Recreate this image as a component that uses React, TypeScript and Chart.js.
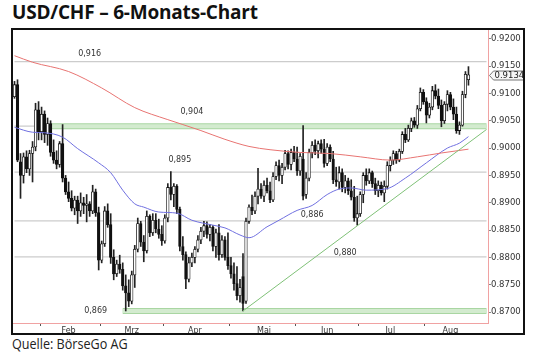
import React, { useEffect, useRef } from 'react';
import { Chart, registerables } from 'chart.js';

Chart.register(...registerables);

// ---- data ----
const opens = [
  0.9094, 0.9116, 0.8975, 0.8950, 0.8984, 0.8962, 0.8990, 0.9002, 0.9070, 0.9030,
  0.9062, 0.9025, 0.9045, 0.8992, 0.8978, 0.8970, 0.9008, 0.8945, 0.8920, 0.8908,
  0.8890, 0.8905, 0.8885, 0.8900, 0.8895, 0.8898, 0.8885, 0.8920, 0.8882, 0.8795,
  0.8825, 0.8885, 0.8860, 0.8800, 0.8770, 0.8788, 0.8778, 0.8748, 0.8735, 0.8720,
  0.8768, 0.8815, 0.8862, 0.8828, 0.8812, 0.8875, 0.8845, 0.8868, 0.8852, 0.8842,
  0.8830, 0.8872, 0.8928, 0.8915, 0.8930, 0.8888, 0.8820, 0.8805, 0.8760, 0.8790,
  0.8800, 0.8815, 0.8832, 0.8848, 0.8858, 0.8842, 0.8855, 0.8820, 0.8845, 0.8805,
  0.8832, 0.8800, 0.8785, 0.8770, 0.8752, 0.8730, 0.8765, 0.8720, 0.8866, 0.8892,
  0.8885, 0.8912, 0.8925, 0.8912, 0.8932, 0.8922, 0.8905, 0.8948, 0.8968, 0.8950,
  0.8965, 0.8990, 0.8970, 0.8992, 0.8980, 0.8958, 0.8980, 0.8915, 0.8945, 0.8992,
  0.9005, 0.8995, 0.9008, 0.8998, 0.8972, 0.9002, 0.8980, 0.8942, 0.8938, 0.8955,
  0.8928, 0.8940, 0.8922, 0.8910, 0.8872, 0.8880, 0.8915, 0.8950, 0.8940, 0.8955,
  0.8935, 0.8922, 0.8932, 0.8918, 0.8930, 0.8968, 0.8978, 0.8990, 0.8978, 0.8994,
  0.9025, 0.9015, 0.9036, 0.9050, 0.9042, 0.9072, 0.9102, 0.9085, 0.9060, 0.9075,
  0.9105, 0.9095, 0.9078, 0.9050, 0.9080, 0.9098, 0.9075, 0.9062, 0.9032, 0.9042,
  0.9098, 0.9125,
];
const highs = [
  0.9122, 0.9125, 0.8990, 0.8991, 0.8995, 0.8996, 0.9012, 0.9082, 0.9085, 0.9075,
  0.9068, 0.9055, 0.9050, 0.9015, 0.8995, 0.9012, 0.9043, 0.8950, 0.8938, 0.8922,
  0.8912, 0.8912, 0.8918, 0.8910, 0.8915, 0.8902, 0.8932, 0.8925, 0.8892, 0.8830,
  0.8893, 0.8898, 0.8880, 0.8814, 0.8795, 0.8804, 0.8790, 0.8768, 0.8759, 0.8775,
  0.8822, 0.8872, 0.8866, 0.8840, 0.8885, 0.8878, 0.8880, 0.8880, 0.8870, 0.8858,
  0.8878, 0.8935, 0.8957, 0.8935, 0.8933, 0.8892, 0.8838, 0.8810, 0.8800, 0.8808,
  0.8820, 0.8840, 0.8855, 0.8866, 0.8865, 0.8860, 0.8858, 0.8852, 0.8860, 0.8840,
  0.8838, 0.8845, 0.8800, 0.8790, 0.8783, 0.8760, 0.8807, 0.8872, 0.8896, 0.8914,
  0.8920, 0.8963, 0.8935, 0.8940, 0.8945, 0.8938, 0.8955, 0.8975, 0.8978, 0.8972,
  0.8996, 0.8995, 0.8998, 0.9003, 0.9002, 0.8990, 0.9041, 0.8955, 0.8998, 0.9012,
  0.9015, 0.9013, 0.9015, 0.9016, 0.9008, 0.9006, 0.8994, 0.8965, 0.8966, 0.8962,
  0.8950, 0.8945, 0.8942, 0.8930, 0.8912, 0.8920, 0.8955, 0.8962, 0.8962, 0.8958,
  0.8945, 0.8940, 0.8938, 0.8940, 0.8975, 0.8984, 0.8995, 0.8994, 0.8998, 0.9030,
  0.9036, 0.9042, 0.9055, 0.9056, 0.9078, 0.9110, 0.9107, 0.9092, 0.9082, 0.9113,
  0.9116, 0.9108, 0.9088, 0.9085, 0.9105, 0.9102, 0.9090, 0.9075, 0.9048, 0.9104,
  0.9140, 0.9149,
];
const lows = [
  0.9091, 0.8975, 0.8908, 0.8936, 0.8955, 0.8950, 0.8938, 0.8995, 0.9015, 0.9015,
  0.9010, 0.9005, 0.8985, 0.8972, 0.8962, 0.8965, 0.8938, 0.8915, 0.8902, 0.8885,
  0.8878, 0.8862, 0.8875, 0.8880, 0.8865, 0.8875, 0.8880, 0.8875, 0.8777, 0.8790,
  0.8820, 0.8855, 0.8789, 0.8759, 0.8765, 0.8771, 0.8740, 0.8702, 0.8710, 0.8715,
  0.8745, 0.8810, 0.8820, 0.8792, 0.8808, 0.8838, 0.8840, 0.8845, 0.8835, 0.8822,
  0.8826, 0.8865, 0.8905, 0.8893, 0.8880, 0.8812, 0.8795, 0.8743, 0.8755, 0.8783,
  0.8790, 0.8810, 0.8825, 0.8838, 0.8835, 0.8830, 0.8812, 0.8800, 0.8795, 0.8800,
  0.8795, 0.8778, 0.8762, 0.8740, 0.8722, 0.8718, 0.8702, 0.8716, 0.8862, 0.8878,
  0.8880, 0.8898, 0.8908, 0.8902, 0.8918, 0.8900, 0.8902, 0.8942, 0.8940, 0.8935,
  0.8960, 0.8962, 0.8960, 0.8975, 0.8950, 0.8950, 0.8905, 0.8908, 0.8940, 0.8982,
  0.8988, 0.8982, 0.8990, 0.8965, 0.8968, 0.8975, 0.8935, 0.8930, 0.8925, 0.8920,
  0.8918, 0.8915, 0.8905, 0.8866, 0.8859, 0.8875, 0.8900, 0.8932, 0.8935, 0.8928,
  0.8915, 0.8911, 0.8914, 0.8902, 0.8925, 0.8958, 0.8970, 0.8972, 0.8975, 0.8990,
  0.9010, 0.9012, 0.9030, 0.9038, 0.9036, 0.9068, 0.9080, 0.9046, 0.9055, 0.9070,
  0.9090, 0.9072, 0.9039, 0.9045, 0.9068, 0.9070, 0.9052, 0.9027, 0.9025, 0.9040,
  0.9092, 0.9115,
];
const closes = [
  0.9116, 0.8978, 0.8950, 0.8984, 0.8962, 0.8990, 0.9002, 0.9070, 0.9030, 0.9062,
  0.9025, 0.9045, 0.8992, 0.8978, 0.8970, 0.9008, 0.8945, 0.8920, 0.8908, 0.8890,
  0.8905, 0.8885, 0.8900, 0.8895, 0.8898, 0.8885, 0.8920, 0.8882, 0.8795, 0.8825,
  0.8885, 0.8860, 0.8800, 0.8770, 0.8788, 0.8778, 0.8748, 0.8735, 0.8720, 0.8768,
  0.8815, 0.8862, 0.8828, 0.8812, 0.8875, 0.8845, 0.8868, 0.8852, 0.8842, 0.8830,
  0.8872, 0.8928, 0.8915, 0.8930, 0.8888, 0.8820, 0.8805, 0.8760, 0.8790, 0.8800,
  0.8815, 0.8832, 0.8848, 0.8858, 0.8842, 0.8855, 0.8820, 0.8845, 0.8805, 0.8832,
  0.8800, 0.8785, 0.8770, 0.8752, 0.8730, 0.8745, 0.8716, 0.8866, 0.8892, 0.8885,
  0.8912, 0.8925, 0.8912, 0.8932, 0.8922, 0.8905, 0.8948, 0.8968, 0.8950, 0.8965,
  0.8990, 0.8970, 0.8992, 0.8980, 0.8958, 0.8985, 0.8912, 0.8945, 0.8992, 0.9005,
  0.8995, 0.9008, 0.8998, 0.8972, 0.9002, 0.8980, 0.8942, 0.8938, 0.8955, 0.8928,
  0.8940, 0.8922, 0.8910, 0.8872, 0.8880, 0.8915, 0.8950, 0.8940, 0.8955, 0.8935,
  0.8922, 0.8932, 0.8918, 0.8930, 0.8968, 0.8978, 0.8990, 0.8978, 0.8994, 0.9025,
  0.9015, 0.9036, 0.9050, 0.9042, 0.9072, 0.9102, 0.9085, 0.9060, 0.9075, 0.9105,
  0.9095, 0.9078, 0.9050, 0.9080, 0.9098, 0.9075, 0.9062, 0.9032, 0.9042, 0.9098,
  0.9135, 0.9134,
];

// moving averages (day index, value)
const redMaIdx = [0, 6, 18, 29, 40, 51, 56, 62, 70, 78, 85, 95, 105, 115, 125, 134, 142, 151];
const redMaVal = [0.9169, 0.9157, 0.9140, 0.9110, 0.9074, 0.9052, 0.9043, 0.9032, 0.9016, 0.9003,
  0.8997, 0.8992, 0.8990, 0.8984, 0.8978, 0.8984, 0.8991, 0.8998];
const blueMaIdx = [0, 6, 10, 16, 21, 28, 32, 36, 40, 43, 48, 54, 59, 66, 70, 75, 78, 84, 88, 94,
  99, 104, 108, 112, 117, 124, 130, 137, 144, 148, 151];
const blueMaVal = [0.9038, 0.9029, 0.9028, 0.9020, 0.8999, 0.8973, 0.8955, 0.8923, 0.8898, 0.8892,
  0.8883, 0.8881, 0.8868, 0.8859, 0.8854, 0.8841, 0.8836, 0.8856, 0.8868, 0.8886,
  0.8895, 0.8915, 0.8925, 0.8927, 0.8923, 0.8926, 0.8945, 0.8973, 0.9000, 0.9009, 0.9021];

// support / resistance levels
const levelValues = [0.9158, 0.9040, 0.8956, 0.8867, 0.8801];
const levelLabels = ['0,916', '0,904', '0,895', '0,886', '0,880', '0,869'];
const levelLabelIdx = [25, 59, 55, 99, 110, 27];
const levelLabelVal = [0.9173, 0.9066, 0.8978, 0.8877, 0.8808, 0.8703];
const bandValues = [0.9040, 0.8702];
const bandStartIdx = [12, 36];
const trendIdx = [76, 157];
const trendVal = [0.8702, 0.9034];

const lastPrice = 0.9134;
const yTicks = [0.870, 0.875, 0.880, 0.885, 0.890, 0.895, 0.900, 0.905, 0.910, 0.915, 0.920];
const months = ['Feb', 'Mrz', 'Apr', 'Mai', 'Jun', 'Jul', 'Aug'];
const monthLabelIdx = [18, 39, 60, 83, 104, 125, 145];
const monthStartIdx = [9, 29, 50, 72, 94, 115, 137];
const SLOTS = 158;

function sparse(idx: number[], vals: number[]) {
  const a: (number | null)[] = new Array(SLOTS).fill(null);
  idx.forEach((k, j) => { a[k] = vals[j]; });
  return a;
}

const annotPlugin = {
  id: 'annot',
  afterDraw(chart: any) {
    const { ctx, scales } = chart;
    const x = scales.x, y = scales.y;
    ctx.save();
    ctx.font = '8px "DejaVu Sans"';
    ctx.fillStyle = '#333';
    ctx.textAlign = 'center';
    ctx.textBaseline = 'middle';
    levelLabels.forEach((t, k) => {
      ctx.fillText(t, x.getPixelForValue(levelLabelIdx[k]), y.getPixelForValue(levelLabelVal[k]));
    });
    // price tag
    const py = Math.round(y.getPixelForValue(lastPrice)) + 0.5;
    const x0 = chart.chartArea.right + 1.5;
    const x1 = chart.width + 2;
    ctx.beginPath();
    ctx.moveTo(x0, py);
    ctx.lineTo(x0 + 4, py - 4.5);
    ctx.lineTo(x1, py - 4.5);
    ctx.lineTo(x1, py + 4.5);
    ctx.lineTo(x0 + 4, py + 4.5);
    ctx.closePath();
    ctx.fillStyle = '#f6f6f6';
    ctx.fill();
    ctx.strokeStyle = '#777';
    ctx.lineWidth = 1;
    ctx.stroke();
    ctx.fillStyle = '#222';
    ctx.textAlign = 'left';
    ctx.font = '8.5px "DejaVu Sans"';
    ctx.fillText(lastPrice.toFixed(4), x0 + 5, py + 0.5);
    ctx.restore();
  },
};

export default function App() {
  const ref = useRef<HTMLCanvasElement>(null);

  useEffect(() => {
    if (!ref.current) return;
    const labels = Array.from({ length: SLOTS }, (_, i) => String(i));
    const wick = highs.map((h, i) => [lows[i], h]);
    const body = opens.map((o, i) => [Math.min(o, closes[i]), Math.max(o, closes[i])]);
    const bodyColors = opens.map((o, i) => (closes[i] >= o ? '#ffffff' : '#111111'));

    const lineBase = { type: 'line' as const, pointRadius: 0, spanGaps: true, fill: false };
    const datasets: any[] = [];
    levelValues.forEach((v) => {
      datasets.push({ ...lineBase, data: sparse([0, SLOTS - 1], [v, v]), borderColor: '#cccccc', borderWidth: 1.2, order: 20 });
    });
    bandValues.forEach((v, k) => {
      datasets.push({ ...lineBase, data: sparse([bandStartIdx[k], SLOTS - 1], [v, v]), borderColor: '#a9d6a2', borderWidth: 6, borderCapStyle: 'butt', order: 19 });
      datasets.push({ ...lineBase, data: sparse([bandStartIdx[k], SLOTS - 1], [v, v]), borderColor: '#d3ebcf', borderWidth: 4, borderCapStyle: 'butt', order: 18 });
    });
    datasets.push({ ...lineBase, data: sparse(redMaIdx, redMaVal), borderColor: '#e87472', borderWidth: 1, cubicInterpolationMode: 'monotone', order: 3 });
    datasets.push({ ...lineBase, data: sparse(blueMaIdx, blueMaVal), borderColor: '#7070e0', borderWidth: 1, cubicInterpolationMode: 'monotone', order: 3 });
    datasets.push({ ...lineBase, data: sparse(trendIdx, trendVal), borderColor: '#7fc177', borderWidth: 1, order: 2 });
    datasets.push({ type: 'bar', data: wick, backgroundColor: '#222222', barThickness: 1, grouped: false, order: 6 });
    datasets.push({ type: 'bar', data: body, backgroundColor: bodyColors, borderColor: '#111111', borderWidth: 0.8, borderSkipped: false, barThickness: 2.6, grouped: false, order: 5 });

    const chart = new Chart(ref.current, {
      type: 'bar',
      data: { labels, datasets },
      options: {
        animation: false,
        responsive: false,
        events: [],
        layout: { padding: 0 },
        plugins: { legend: { display: false }, tooltip: { enabled: false } },
        scales: {
          x: {
            type: 'category',
            offset: true,
            grid: {
              offset: true,
              drawOnChartArea: false,
              drawTicks: true,
              tickLength: 3,
              tickColor: (c: any) => (monthStartIdx.includes(c.index) ? '#555' : 'rgba(0,0,0,0)'),
            },
            border: { color: '#f0a2a2', width: 1 },
            ticks: {
              autoSkip: false,
              maxRotation: 0,
              minRotation: 0,
              padding: 0,
              color: '#333',
              font: { family: 'DejaVu Sans', size: 8 },
              callback: (_v: any, i: number) => {
                const k = monthLabelIdx.indexOf(i);
                return k >= 0 ? months[k] : '';
              },
            },
            afterFit: (s: any) => { s.height = 10; s.paddingLeft = 0; s.paddingRight = 0; },
          },
          y: {
            position: 'right',
            min: 0.868,
            max: 0.9216,
            afterBuildTicks: (s: any) => { s.ticks = yTicks.map((v) => ({ value: v })); },
            grid: { drawOnChartArea: false, drawTicks: true, tickLength: 3, tickColor: '#888' },
            border: { color: '#f0a2a2', width: 1 },
            ticks: {
              padding: 0,
              color: '#333',
              font: { family: 'DejaVu Sans', size: 8.5 },
              callback: (v: any) => Number(v).toFixed(4),
            },
            afterFit: (s: any) => { s.width = 35; s.paddingTop = 0; s.paddingBottom = 0; },
          },
        },
      },
      plugins: [annotPlugin],
    } as any);
    return () => chart.destroy();
  }, []);

  return (
    <div style={{ position: 'absolute', left: 0, top: 0, width: 540, height: 358, background: '#fff', overflow: 'hidden' }}>
      <div style={{ position: 'absolute', left: 12, top: 3, fontFamily: '"Open Sans", sans-serif', fontWeight: 700, fontSize: 19, lineHeight: '19px', color: '#111', whiteSpace: 'nowrap', letterSpacing: -0.2 }}>
        USD/CHF – 6-Monats-Chart
      </div>
      <div style={{ position: 'absolute', left: 11, top: 28, width: 510, height: 303, border: '2px solid #111' }}>
        <canvas ref={ref} width={510} height={303} style={{ display: 'block', width: 510, height: 303 }} />
      </div>
      <div style={{ position: 'absolute', left: 12, top: 336, fontFamily: '"Open Sans", sans-serif', fontSize: 14, lineHeight: '16px', color: '#222', whiteSpace: 'nowrap', transform: 'scaleX(0.9)', transformOrigin: 'left top' }}>
        Quelle: BörseGo AG
      </div>
    </div>
  );
}
